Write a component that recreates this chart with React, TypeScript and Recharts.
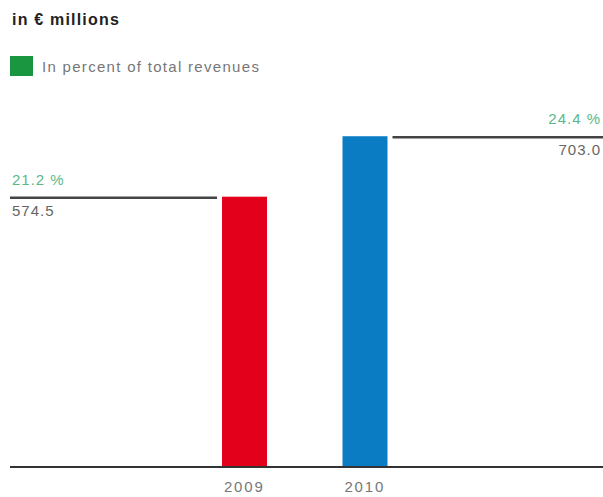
import { BarChart, Bar, XAxis, YAxis, Cell } from 'recharts';

// Werte
const years = ['2009', '2010'];
const revenues = [574.5, 703.0];
const shares = [21.2, 24.4];
const barColors = ['#e2001a', '#0a7cc4'];

const data = years.map((year, i) => ({ year, value: revenues[i], share: shares[i] }));

const W = 603;
const H = 497;

const fmt = (v: number) => v.toFixed(1);
const fmtPct = (v: number) => `${v.toFixed(1)} %`;

// Balken plus waagerechte Linie mit den Beschriftungen
function BarWithLine(props: any) {
  const { x, y, width, height, fill, index, payload } = props;
  const left = index === 0;
  const x1 = left ? 10 : x + width + 5;
  const x2 = left ? x - 5 : W;
  const tx = left ? 12 : 601;
  const anchor = left ? 'start' : 'end';
  return (
    <g>
      <rect x={x} y={y} width={width} height={height} fill={fill} />
      <line x1={x1} x2={x2} y1={y + 1} y2={y + 1} stroke="#444" strokeWidth={2.5} />
      <text x={tx} y={y - 12} textAnchor={anchor} fontSize={15} letterSpacing={1} fill="#5ab88a">
        {fmtPct(payload.share)}
      </text>
      <text x={tx} y={y + 19} textAnchor={anchor} fontSize={15} letterSpacing={1} fill="#666">
        {fmt(payload.value)}
      </text>
    </g>
  );
}

function YearTick(props: any) {
  const { x, y, payload } = props;
  return (
    <text x={x} y={y + 17} textAnchor="middle" fontSize={15} letterSpacing={1.8} fill="#777">
      {payload.value}
    </text>
  );
}

export default function App() {
  return (
    <div
      style={{
        position: 'absolute',
        left: 0,
        top: 0,
        width: W,
        height: H,
        background: '#fff',
        fontFamily: 'Liberation Sans, Arial, sans-serif',
      }}
    >
      <div style={{ position: 'absolute', left: 12, top: 11, fontSize: 16, lineHeight: '18px', fontWeight: 'bold', letterSpacing: 1.2, color: '#222' }}>
        in € millions
      </div>
      <div style={{ position: 'absolute', left: 10, top: 56, display: 'flex', alignItems: 'center' }}>
        <span style={{ display: 'inline-block', width: 23, height: 20, background: '#1a9641' }} />
        <span style={{ marginLeft: 9, fontSize: 15, letterSpacing: 1.3, color: '#777' }}>In percent of total revenues</span>
      </div>
      <BarChart
        width={W}
        height={H}
        data={data}
        margin={{ top: 100, right: 0, bottom: 0, left: 10 }}
        style={{ position: 'absolute', left: 0, top: 0 }}
      >
        <YAxis hide domain={[0, 780]} />
        <XAxis
          dataKey="year"
          height={30}
          padding={{ left: 174, right: 178 }}
          axisLine={{ stroke: '#333', strokeWidth: 2 }}
          tickLine={false}
          tick={<YearTick />}
          interval={0}
        />
        <Bar dataKey="value" barSize={45} shape={<BarWithLine />} isAnimationActive={false}>
          {data.map((_, i) => (
            <Cell key={`c-${i}`} fill={barColors[i]} />
          ))}
        </Bar>
      </BarChart>
    </div>
  );
}
